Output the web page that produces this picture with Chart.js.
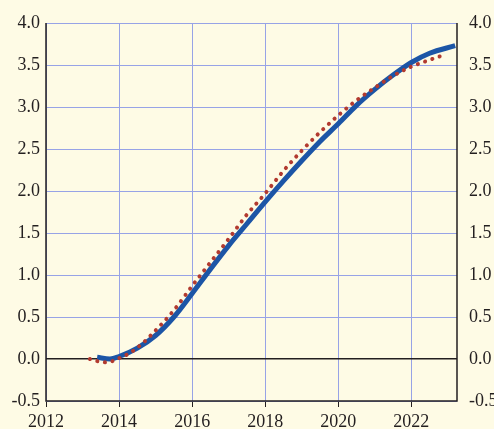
<!DOCTYPE html>
<html>
<head>
<meta charset="utf-8">
<script src="https://cdn.jsdelivr.net/npm/chart.js@4.4.1/dist/chart.umd.min.js"></script>
<style>
  html, body { margin: 0; padding: 0; background: #FEFBE5; }
  #wrap { width: 494px; height: 429px; }
</style>
</head>
<body>
<div id="wrap"><canvas id="chart" width="494" height="429"></canvas></div>
<script>
// --- data ---
const blueYears  = [2013.4, 2013.75, 2014, 2014.5, 2015, 2015.5, 2016, 2016.5, 2017, 2017.5, 2018, 2018.5, 2019, 2019.5, 2020, 2020.5, 2021, 2021.5, 2022, 2022.5, 2023.2];
const blueValues = [0.02, 0.0, 0.03, 0.13, 0.28, 0.50, 0.78, 1.07, 1.35, 1.61, 1.87, 2.12, 2.36, 2.59, 2.80, 3.02, 3.21, 3.38, 3.53, 3.64, 3.73];

const redYears  = [2013.2, 2013.45, 2013.65, 2013.85, 2014.05, 2014.25, 2014.6, 2015, 2015.5, 2016, 2016.5, 2017, 2017.5, 2018, 2018.5, 2019, 2019.5, 2020, 2020.5, 2021, 2021.5, 2022, 2022.5, 2022.9];
const redValues = [0.0, -0.03, -0.04, -0.02, 0.02, 0.06, 0.17, 0.34, 0.58, 0.87, 1.15, 1.43, 1.72, 1.97, 2.24, 2.48, 2.70, 2.90, 3.08, 3.23, 3.37, 3.48, 3.56, 3.62];

const xMin = 2012, xMax = 2023.25, xStep = 2;
const yMin = -0.5, yMax = 4.0, yStep = 0.5;

const GRID = '#97A3E6';
const INK = '#231F20';
const FONT = { family: "'Liberation Serif', 'Times New Roman', Times, serif", size: 18 };

const toPoints = (xs, ys) => xs.map((x, i) => ({ x: x, y: ys[i] }));

// plain cream fill behind everything
const bgPlugin = {
  id: 'bg',
  beforeDraw(chart) {
    const c = chart.ctx;
    c.save();
    c.fillStyle = '#FEFBE5';
    c.fillRect(0, 0, chart.width, chart.height);
    c.restore();
  }
};

// black frame on left, right and bottom (top is a grid line)
const framePlugin = {
  id: 'frame',
  afterDatasetsDraw(chart) {
    const a = chart.chartArea, c = chart.ctx;
    c.save();
    c.strokeStyle = INK;
    c.lineWidth = 1.5;
    c.beginPath();
    c.moveTo(a.left, a.top);
    c.lineTo(a.left, a.bottom);
    c.lineTo(a.right, a.bottom);
    c.lineTo(a.right, a.top);
    c.stroke();
    c.restore();
  }
};

const yTicks = {
  stepSize: yStep,
  color: INK,
  font: FONT,
  callback: v => v.toFixed(1)
};

new Chart(document.getElementById('chart'), {
  type: 'line',
  data: {
    datasets: [
      {
        label: 'red',
        data: toPoints(redYears, redValues),
        borderColor: '#B23A2F',
        borderWidth: 4,
        borderDash: [0.1, 7.6],
        borderCapStyle: 'round',
        pointRadius: 0,
        cubicInterpolationMode: 'monotone',
        fill: false
      },
      {
        label: 'blue',
        data: toPoints(blueYears, blueValues),
        borderColor: '#1C55A6',
        borderWidth: 5,
        pointRadius: 0,
        cubicInterpolationMode: 'monotone',
        fill: false
      }
    ]
  },
  options: {
    responsive: false,
    animation: false,
    layout: { padding: { top: 23, left: 0, right: 0, bottom: 0 } },
    plugins: { legend: { display: false }, tooltip: { enabled: false } },
    scales: {
      x: {
        type: 'linear',
        min: xMin,
        max: xMax,
        border: { display: false },
        ticks: {
          stepSize: xStep,
          includeBounds: false,
          color: INK,
          font: FONT,
          padding: 4,
          maxRotation: 0,
          callback: v => (v % 2 === 0 ? String(v) : '')
        },
        grid: {
          color: GRID,
          tickColor: INK,
          tickLength: 6,
          lineWidth: 1
        },
        afterFit: s => { s.height = 28; }
      },
      y: {
        position: 'left',
        min: yMin,
        max: yMax,
        border: { display: false },
        ticks: Object.assign({ padding: 6 }, yTicks),
        grid: {
          color: ctx => (ctx.tick && ctx.tick.value === 0 ? INK : GRID),
          lineWidth: ctx => (ctx.tick && ctx.tick.value === 0 ? 1.5 : 1),
          drawTicks: false
        },
        afterFit: s => { s.width = 46; }
      },
      y2: {
        position: 'right',
        min: yMin,
        max: yMax,
        border: { display: false },
        ticks: Object.assign({ padding: 12 }, yTicks),
        grid: { display: false, drawTicks: false },
        afterFit: s => { s.width = 37; }
      }
    }
  },
  plugins: [bgPlugin, framePlugin]
});
</script>
</body>
</html>
